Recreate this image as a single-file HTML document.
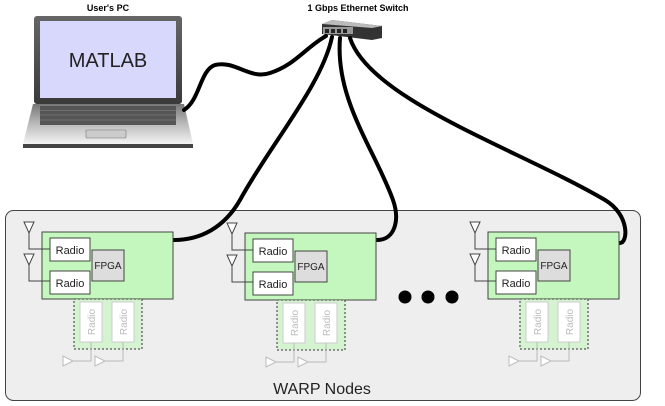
<!DOCTYPE html>
<html><head><style>html,body{margin:0;padding:0;background:#fff;}svg{display:block}</style></head>
<body>
<svg width="665" height="406" viewBox="0 0 665 406" xmlns="http://www.w3.org/2000/svg" font-family="Liberation Sans, Arial, sans-serif">
<defs>
<linearGradient id="base" x1="0" y1="0" x2="0" y2="1"><stop offset="0" stop-color="#777"/><stop offset="0.5" stop-color="#bbb"/><stop offset="1" stop-color="#f4f4f4"/></linearGradient>
<linearGradient id="scr" x1="0" y1="0" x2="0" y2="1"><stop offset="0" stop-color="#666"/><stop offset="1" stop-color="#3a3a3a"/></linearGradient>
<g id="node">
  <rect x="0" y="0" width="131" height="67" fill="#c4f7bd" stroke="#444" stroke-width="1"/>
  <rect x="8" y="6" width="40" height="23" fill="#fff" stroke="#444"/>
  <text x="28" y="22" font-size="11" text-anchor="middle" fill="#222">Radio</text>
  <rect x="8" y="39" width="40" height="23" fill="#fff" stroke="#444"/>
  <text x="28" y="55" font-size="11" text-anchor="middle" fill="#222">Radio</text>
  <rect x="50" y="18" width="32" height="31" fill="#ddd" stroke="#444"/>
  <text x="66" y="37" font-size="10" text-anchor="middle" fill="#222">FPGA</text>
  <polyline points="-13,-2 -13,17 8,17" fill="none" stroke="#444"/>
  <polyline points="-13,30 -13,49 8,49" fill="none" stroke="#444"/>
  <polygon points="-18,-10 -8,-10 -13,1" fill="#fff" stroke="#444"/>
  <polygon points="-18,22 -8,22 -13,33" fill="#fff" stroke="#444"/>
  <rect x="32" y="67" width="68" height="50" fill="#c4f7bd" fill-opacity="0.6" stroke="#333" stroke-dasharray="2,2"/>
  <rect x="38" y="70" width="22" height="40" fill="#fff" stroke="#ccc"/>
  <rect x="70" y="70" width="22" height="40" fill="#fff" stroke="#ccc"/>
  <text transform="translate(53,90) rotate(-90)" font-size="10" text-anchor="middle" fill="#bbb">Radio</text>
  <text transform="translate(85,90) rotate(-90)" font-size="10" text-anchor="middle" fill="#bbb">Radio</text>
  <polyline points="49,110 49,129 30,129" fill="none" stroke="#bbb"/>
  <polyline points="81,110 81,129 62,129" fill="none" stroke="#bbb"/>
  <polygon points="21,124 21,134 31,129" fill="#fff" stroke="#bbb"/>
  <polygon points="53,124 53,134 63,129" fill="#fff" stroke="#bbb"/>
</g>
</defs>
<rect x="5.5" y="210.5" width="635" height="190" rx="8" fill="#eeeeee" stroke="#444" stroke-width="1"/>
<!-- laptop -->
<rect x="34" y="16" width="148" height="88" rx="3" fill="url(#scr)"/>
<rect x="40" y="21" width="136" height="77" fill="#d8d8fc"/>
<text x="108" y="67" font-size="20" text-anchor="middle" fill="#222">MATLAB</text>
<polygon points="33,104 184,104 193,144 23,144" fill="url(#base)"/>
<rect x="23" y="144" width="170" height="4" fill="#444"/>
<rect x="40" y="106" width="136" height="19" fill="#555"/>
<g stroke="#888" stroke-width="0.6">
<line x1="40" y1="110.5" x2="176" y2="110.5"/><line x1="40" y1="115" x2="176" y2="115"/><line x1="40" y1="120" x2="176" y2="120"/>
</g>
<rect x="86" y="130" width="40" height="8" rx="1" fill="#ccc" stroke="#777" stroke-width="0.6"/>
<text x="108" y="11" font-size="9" font-weight="bold" text-anchor="middle" fill="#000">User's PC</text>
<!-- switch -->
<text x="358" y="11" font-size="9" font-weight="bold" text-anchor="middle" fill="#000">1 Gbps Ethernet Switch</text>
<polygon points="322,24 332,20 382,26 382,38 372,40 322,34" fill="#333"/>
<polygon points="322,24 332,20 382,26 372,28" fill="#bbb"/>
<rect x="323" y="27" width="30" height="7" fill="#999"/>
<g fill="#222"><rect x="325" y="29" width="4" height="4"/><rect x="331" y="29" width="4" height="4"/><rect x="337" y="29" width="4" height="4"/><rect x="343" y="29" width="4" height="4"/></g>
<!-- cables -->
<g fill="none" stroke="#000" stroke-width="4" stroke-linecap="round">
<path d="M184,110 C200,100 200,70 215,65 C235,60 250,80 270,73 C295,65 305,48 326,36"/>
<path d="M332,37 C322,85 270,145 240,200 C224,228 200,240 174,240"/>
<path d="M340,38 C335,100 375,150 393,200 C400,220 395,240 377,240"/>
<path d="M350,38 C370,100 520,150 605,200 C630,215 628,243 620,243"/>
</g>
<use href="#node" x="42" y="232"/>
<use href="#node" x="245" y="233"/>
<use href="#node" x="488" y="232"/>
<circle cx="405" cy="297" r="6.5" fill="#000"/>
<circle cx="428" cy="297" r="6.5" fill="#000"/>
<circle cx="452" cy="297" r="6.5" fill="#000"/>
<text x="322" y="394" font-size="16" text-anchor="middle" fill="#222">WARP Nodes</text>
</svg>
</body></html>
